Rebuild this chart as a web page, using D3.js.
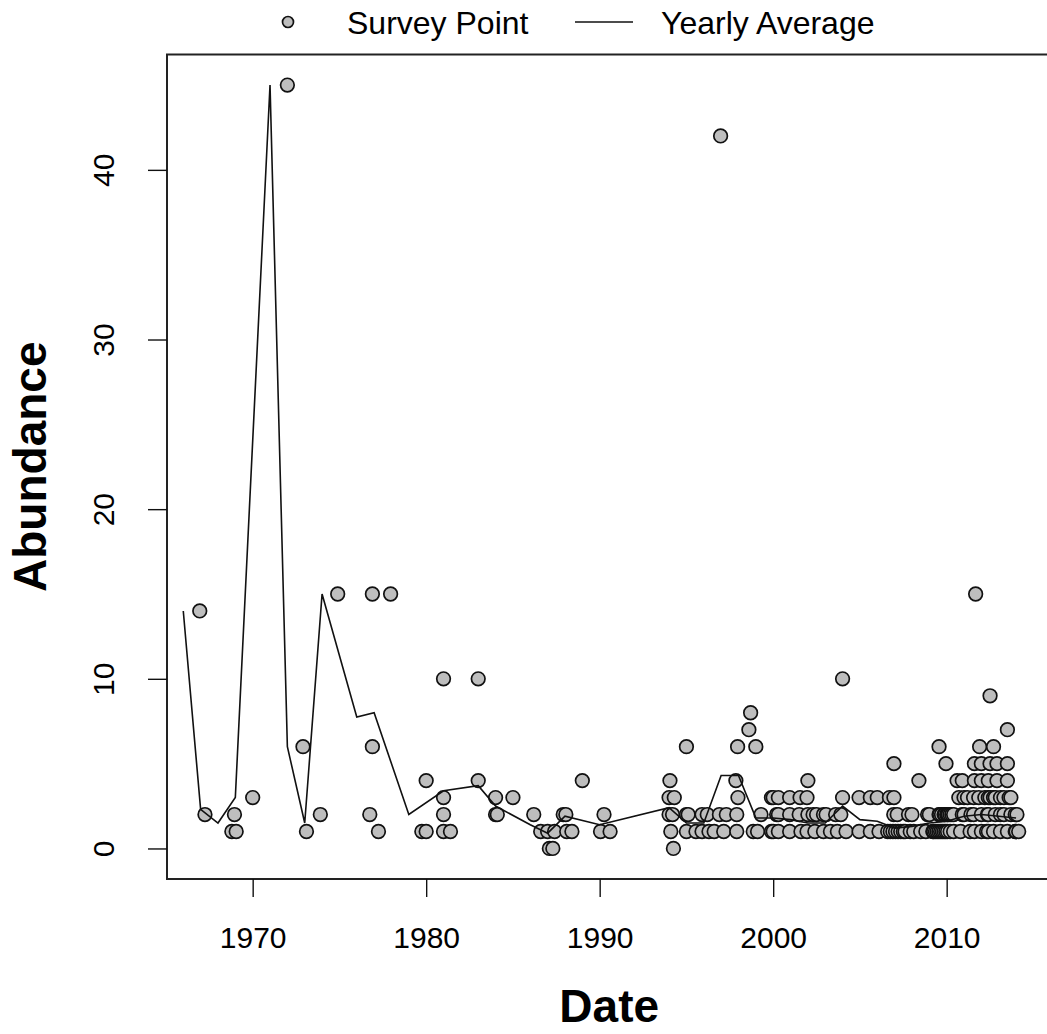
<!DOCTYPE html>
<html>

<head>
	<title>Abundance over time</title>
	<meta charset="utf-8">
	<script src="https://cdn.jsdelivr.net/npm/d3@7"></script>
</head>

<style>
	body {
		margin: 0;
		background: white;
	}

	text {
		font-family: "Liberation Sans", Arial, sans-serif;
		fill: black;
	}

	.tick-label {
		font-size: 30px;
	}

	.legend-label {
		font-size: 32px;
	}

	.axis-title {
		font-size: 46px;
		font-weight: bold;
	}

	.survey {
		fill: #bebebe;
		stroke: #111;
		stroke-width: 1.7;
	}
</style>

<body>
	<svg width="1047" height="1034"></svg>

	<script>
		// survey points, grouped by the abundance recorded
		var counts = [0, 1, 2, 3, 4, 5, 6, 7, 8, 9, 10, 14, 15, 42, 45];

		var datesByCount = {
			0: [1987.1, 1987.3, 1994.25],
			1: [1968.8, 1969.05, 1973.1, 1977.25, 1979.75, 1980.0, 1981.0, 1981.4, 1986.6, 1987.0, 1987.4,
				1988.1, 1988.4, 1990.05, 1990.6, 1994.1, 1995.0, 1995.55, 1995.9, 1996.3, 1996.6, 1997.15,
				1997.9, 1998.85, 1999.1, 1999.9, 2000.0, 2000.3, 2000.95, 2001.6, 2001.95, 2002.4, 2002.9,
				2003.3, 2003.7, 2004.2, 2004.95, 2005.6, 2006.1, 2006.6, 2006.75, 2006.9, 2007.05, 2007.2,
				2007.35, 2007.5, 2007.6, 2007.9, 2008.1, 2008.5, 2008.8, 2009.2, 2009.25, 2009.35, 2009.45,
				2009.55, 2009.65, 2009.75, 2009.85, 2009.95, 2010.05, 2010.2, 2010.4, 2010.8, 2011.35,
				2011.6, 2012.0, 2012.3, 2012.4, 2012.7, 2013.1, 2013.5, 2013.95, 2014.0, 2014.15],
			2: [1967.25, 1968.95, 1973.9, 1976.75, 1981.0, 1984.0, 1984.1, 1986.2, 1987.9, 1988.05, 1990.25,
				1994.0, 1994.2, 1995.0, 1995.1, 1995.9, 1996.2, 1996.9, 1997.3, 1997.9, 1999.3, 2000.2,
				2000.3, 2000.95, 2001.5, 2002.0, 2002.3, 2002.5, 2002.9, 2003.05, 2003.6, 2003.9, 2006.95,
				2007.15, 2007.8, 2008.0, 2008.9, 2009.0, 2009.56, 2009.6, 2009.7, 2009.85, 2009.9, 2010.0,
				2010.05, 2010.1, 2010.2, 2010.3, 2010.4, 2010.9, 2011.0, 2011.4, 2011.55, 2012.0, 2012.35,
				2012.4, 2012.8, 2013.1, 2013.3, 2013.7, 2013.95, 2014.05],
			3: [1970.0, 1981.0, 1984.0, 1985.0, 1994.0, 1994.3, 1997.97, 1999.9, 2000.0, 2000.3, 2000.95,
				2001.55, 2001.95, 2004.0, 2004.95, 2005.6, 2006.0, 2006.7, 2006.96, 2010.7, 2011.0, 2011.2,
				2011.55, 2011.85, 2012.2, 2012.4, 2012.5, 2012.7, 2012.8, 2013.1, 2013.3, 2013.6, 2013.7],
			4: [1980.0, 1983.0, 1989.0, 1994.05, 1997.85, 2002.0, 2008.4, 2010.6, 2010.9, 2011.6, 2012.0,
				2012.4, 2012.9, 2013.5],
			5: [2006.96, 2009.96, 2011.6, 2012.0, 2012.5, 2012.9, 2013.5],
			6: [1972.9, 1976.9, 1995.0, 1997.95, 1999.0, 2009.56, 2011.9, 2012.7],
			7: [1998.6, 2013.5],
			8: [1998.7],
			9: [2012.5],
			10: [1981.0, 1983.0, 2004.0],
			14: [1966.95],
			15: [1974.9, 1976.9, 1977.95, 2011.67],
			42: [1996.97],
			45: [1972.0]
		};

		// yearly averages
		var avgYears = [1966, 1967, 1968, 1969, 1971, 1972, 1973, 1974, 1976, 1977, 1979, 1981, 1983, 1984,
			1986, 1987, 1988, 1990, 1994, 1995, 1996, 1997, 1998, 1999, 2000, 2001, 2002, 2003, 2004,
			2005, 2006, 2007, 2008, 2009, 2010, 2011, 2012, 2013, 2014];
		var avgValues = [14.0, 2.3, 1.5, 3.0, 45.0, 6.0, 1.5, 15.0, 7.75, 8.0, 2.0, 3.4, 3.7, 2.5,
			1.4, 0.9, 1.9, 1.4, 2.4, 1.5, 1.5, 4.3, 4.3, 1.8, 1.8, 1.7, 1.5, 1.5, 2.5,
			1.7, 1.6, 1.2, 1.3, 1.5, 1.6, 1.9, 2.0, 1.9, 1.8];

		var xTicks = [1970, 1980, 1990, 2000, 2010];
		var yTicks = [0, 10, 20, 30, 40];

		var points = [];
		counts.forEach(function(c) {
			datesByCount[c].forEach(function(d) {
				points.push({ date: d, count: c });
			});
		});

		var plot = { left: 167, top: 54.5, bottom: 879 };

		// pad the data range by 4% on each side
		function padded(ext) {
			var pad = (ext[1] - ext[0]) * 0.04;
			return [ext[0] - pad, ext[1] + pad];
		}

		var xDomain = padded(d3.extent(points, function(d) { return d.date; }));
		var yDomain = padded(d3.extent(points, function(d) { return d.count; }));

		// keep one year at the same width as the drawn span 1970-2010
		var pxPerYear = (946.5 - 252.5) / 40;
		plot.right = plot.left + (xDomain[1] - xDomain[0]) * pxPerYear;

		var x = d3.scaleLinear().domain(xDomain).range([plot.left, plot.right]);
		var y = d3.scaleLinear().domain(yDomain).range([plot.bottom, plot.top]);

		var svg = d3.select('svg');

		// points first, average line over them
		svg.append('g')
			.selectAll('circle')
			.data(points)
			.enter()
			.append('circle')
			.attr('class', 'survey')
			.attr('cx', function(d) { return x(d.date); })
			.attr('cy', function(d) { return y(d.count); })
			.attr('r', 6.8);

		var line = d3.line()
			.x(function(d, i) { return x(avgYears[i]); })
			.y(function(d) { return y(d); });

		svg.append('path')
			.attr('d', line(avgValues))
			.attr('fill', 'none')
			.attr('stroke', '#111')
			.attr('stroke-width', 1.6)
			.attr('stroke-linejoin', 'miter');

		// frame
		svg.append('rect')
			.attr('x', plot.left)
			.attr('y', plot.top)
			.attr('width', plot.right - plot.left)
			.attr('height', plot.bottom - plot.top)
			.attr('fill', 'none')
			.attr('stroke', '#222')
			.attr('stroke-width', 2);

		// axes
		var xAxis = svg.append('g')
			.attr('transform', 'translate(0,' + plot.bottom + ')')
			.call(d3.axisBottom(x).tickValues(xTicks).tickSize(18).tickPadding(0).tickFormat(d3.format('d')));
		xAxis.select('.domain').remove();
		xAxis.selectAll('line').attr('stroke', '#111').attr('stroke-width', 1.4);
		xAxis.selectAll('text')
			.attr('class', 'tick-label')
			.attr('y', 69)
			.attr('dy', null);
		xAxis.attr('font-size', null).attr('font-family', null);

		var yAxis = svg.append('g')
			.attr('transform', 'translate(' + plot.left + ',0)')
			.call(d3.axisLeft(y).tickValues(yTicks).tickSize(19));
		yAxis.select('.domain').remove();
		yAxis.selectAll('line').attr('stroke', '#111').attr('stroke-width', 1.4);
		yAxis.selectAll('text')
			.attr('class', 'tick-label')
			.attr('x', null)
			.attr('dy', null)
			.attr('text-anchor', 'middle')
			.attr('transform', 'translate(-53,0) rotate(-90)');
		yAxis.attr('font-size', null).attr('font-family', null);

		// axis titles
		svg.append('text')
			.attr('class', 'axis-title')
			.attr('x', (plot.left + plot.right) / 2)
			.attr('y', 1022)
			.attr('text-anchor', 'middle')
			.text('Date');

		svg.append('text')
			.attr('class', 'axis-title')
			.attr('text-anchor', 'middle')
			.attr('transform', 'translate(46,' + (plot.top + plot.bottom) / 2 + ') rotate(-90)')
			.text('Abundance');

		// legend
		var legend = svg.append('g');
		legend.append('circle')
			.attr('class', 'survey')
			.attr('cx', 288)
			.attr('cy', 22)
			.attr('r', 5.5);
		legend.append('text')
			.attr('class', 'legend-label')
			.attr('x', 347)
			.attr('y', 34)
			.text('Survey Point');
		legend.append('line')
			.attr('x1', 575)
			.attr('x2', 633)
			.attr('y1', 22)
			.attr('y2', 22)
			.attr('stroke', '#111')
			.attr('stroke-width', 1.6);
		legend.append('text')
			.attr('class', 'legend-label')
			.attr('x', 661)
			.attr('y', 34)
			.text('Yearly Average');
	</script>
</body>

</html>
